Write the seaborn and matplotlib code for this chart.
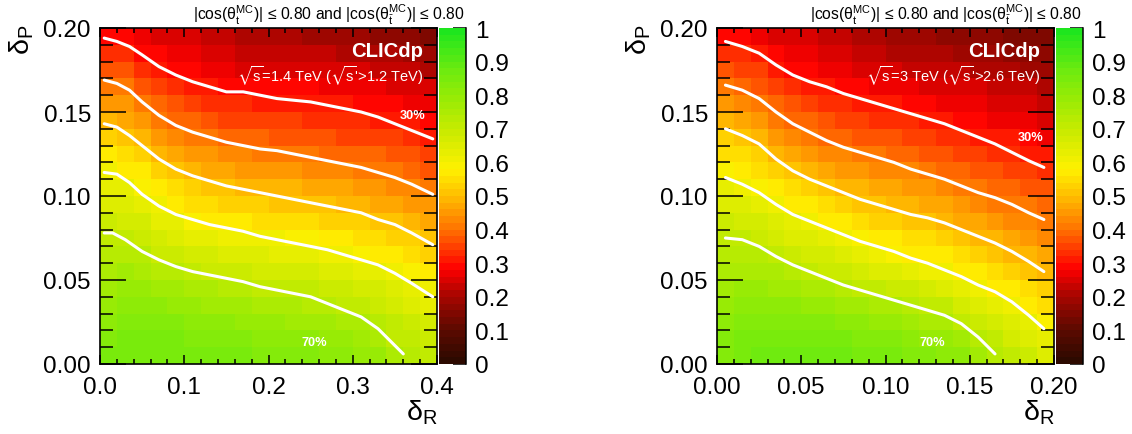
import numpy as np
import matplotlib
matplotlib.use("Agg")
import matplotlib.pyplot as plt
from matplotlib.colors import LinearSegmentedColormap
import seaborn as sns

# Efficiency (percent), one list per delta_R bin, from delta_P = 0.005 (first) up to 0.195 (last)
EFF_14 = [
    [84,83,81,79,77,75,73,71,68,65,63,60,56,53,49,45,41,37,33,29],
    [85,84,82,80,78,76,73,71,67,64,62,58,55,51,47,44,40,36,32,28],
    [85,84,82,80,78,75,72,69,66,62,59,56,53,49,45,40,37,33,29,26],
    [85,84,82,80,77,73,69,66,63,60,57,53,49,45,41,38,35,31,28,25],
    [85,84,82,79,76,72,68,65,62,58,54,51,47,43,39,36,32,29,27,24],
    [85,83,81,78,74,70,66,63,59,55,52,49,45,41,38,35,31,28,26,24],
    [84,83,80,77,74,69,66,62,58,54,51,47,44,40,36,33,30,27,25,23],
    [84,82,80,76,73,69,65,61,57,53,50,46,42,39,35,32,29,26,24,22],
    [84,82,79,76,72,68,65,61,56,52,49,45,42,38,35,32,29,25,23,21],
    [83,81,78,75,71,67,64,60,55,52,48,45,41,38,34,31,29,25,23,20],
    [83,81,78,74,71,67,63,60,55,51,48,44,41,37,34,31,28,25,22,20],
    [82,80,77,74,71,66,62,59,55,51,48,44,40,37,34,31,28,25,22,20],
    [82,80,77,73,70,66,62,59,54,50,47,43,40,36,33,30,28,25,22,19],
    [81,79,76,72,69,65,61,58,53,50,46,43,39,36,33,30,27,24,22,19],
    [80,78,75,71,68,64,60,56,52,49,46,42,39,35,32,30,27,24,21,19],
    [79,77,74,70,67,63,59,55,52,48,45,41,38,35,32,29,26,24,21,18],
    [78,75,72,69,66,62,58,55,51,47,44,41,38,34,31,28,26,23,20,17],
    [74,71,70,67,64,61,57,53,50,47,43,40,37,34,31,28,25,23,20,17],
    [72,70,68,65,62,59,55,52,48,45,42,39,36,33,30,27,25,22,19,16],
    [70,68,66,63,60,57,53,50,47,44,40,37,34,31,29,26,24,21,19,15],
]
EFF_3 = [
    [83,82,80,78,77,75,73,71,68,65,62,59,55,52,48,45,41,37,33,29],
    [85,84,82,80,78,75,73,70,67,64,61,58,54,51,47,43,39,35,32,28],
    [86,85,83,80,78,75,72,69,66,63,59,55,52,48,45,41,37,34,30,27],
    [87,85,83,80,77,74,70,67,64,60,56,52,49,45,41,38,34,31,28,25],
    [86,85,83,80,76,72,68,65,62,58,54,50,46,43,39,36,33,29,26,24],
    [86,85,83,79,75,70,67,64,60,56,52,48,45,41,38,34,31,28,26,24],
    [86,85,82,78,74,69,66,62,58,54,50,47,43,39,36,33,30,27,25,23],
    [86,84,81,77,72,68,64,61,57,53,49,45,42,38,35,32,29,26,24,22],
    [85,83,80,76,71,67,63,59,55,51,48,44,41,37,34,31,28,25,23,21],
    [85,83,79,75,70,65,61,57,53,50,47,43,40,36,33,30,27,24,22,20],
    [84,82,78,74,69,64,59,56,52,49,46,42,39,36,33,30,27,24,21,19],
    [83,81,77,72,68,63,58,55,51,48,45,42,38,35,32,29,26,23,21,18],
    [82,79,75,71,66,61,57,54,50,47,44,40,37,34,31,28,25,23,20,18],
    [81,78,74,70,64,60,56,52,49,46,42,39,36,33,31,27,25,22,20,17],
    [80,76,71,67,62,58,54,51,47,44,41,38,35,32,29,27,24,22,19,17],
    [76,73,69,64,60,56,52,49,46,43,40,37,34,31,28,26,24,21,18,16],
    [72,70,66,62,58,54,51,48,44,41,39,36,33,30,27,25,23,20,18,16],
    [70,67,64,60,57,53,49,46,43,40,38,35,32,30,27,24,22,20,17,15],
    [68,65,62,58,54,51,48,45,42,40,37,34,31,28,26,24,22,19,17,15],
    [65,62,59,55,52,49,46,43,41,38,36,33,30,27,25,23,21,19,16,14],
]

# Contours, left panel
X14 = [.005,.02,.035,.05,.07,.09,.11,.13,.15,.17,.19,.21,.23,.25,.27,.29,.31,.33,.35,.37,.395]
C14_30 = [.194,.192,.189,.184,.177,.172,.168,.165,.162,.162,.160,.158,.157,.156,.154,.152,.150,.147,.143,.139,.134]
C14_40 = [.169,.167,.163,.156,.148,.142,.138,.135,.132,.130,.128,.127,.125,.123,.121,.119,.117,.114,.111,.107,.101]
C14_50 = [.143,.141,.136,.130,.122,.116,.112,.109,.106,.104,.102,.100,.098,.096,.094,.092,.090,.086,.083,.078,.071]
C14_60 = [.114,.113,.108,.101,.094,.089,.086,.083,.081,.079,.076,.074,.072,.070,.068,.065,.062,.059,.054,.048,.040]
X14_70 = [.005,.015,.03,.05,.07,.09,.11,.13,.15,.17,.19,.21,.23,.25,.27,.29,.31,.33,.35,.36]
C14_70 = [.078,.078,.074,.067,.062,.058,.055,.053,.051,.049,.046,.044,.042,.040,.036,.032,.028,.021,.011,.006]

# Contours, right panel
X3 = [.005,.015,.025,.035,.045,.055,.065,.075,.085,.095,.105,.115,.125,.135,.145,.155,.165,.175,.185,.194]
C3_30 = [.192,.189,.185,.178,.172,.168,.165,.161,.158,.155,.152,.149,.146,.143,.139,.135,.131,.126,.121,.117]
C3_40 = [.166,.163,.158,.150,.143,.138,.133,.129,.126,.123,.120,.116,.113,.110,.106,.102,.099,.095,.090,.086]
C3_50 = [.140,.136,.131,.122,.115,.110,.106,.102,.098,.095,.092,.089,.087,.084,.080,.076,.072,.067,.061,.055]
C3_60 = [.111,.107,.102,.095,.089,.085,.081,.077,.073,.070,.067,.063,.060,.056,.052,.047,.043,.037,.029,.021]
X3_70 = [.005,.015,.025,.035,.045,.055,.065,.075,.085,.095,.105,.115,.125,.135,.145,.155,.165]
C3_70 = [.075,.074,.070,.064,.059,.055,.051,.047,.044,.041,.038,.035,.032,.029,.024,.016,.006]

YTICKS = [0.00, 0.05, 0.10, 0.15, 0.20]
YLABELS = ["0.00", "0.05", "0.10", "0.15", "0.20"]
X14TICKS = [0.0, 0.1, 0.2, 0.3, 0.4]
X14LABELS = ["0.0", "0.1", "0.2", "0.3", "0.4"]
X3TICKS = [0.00, 0.05, 0.10, 0.15, 0.20]
X3LABELS = ["0.00", "0.05", "0.10", "0.15", "0.20"]
CBTICKS = [0, .1, .2, .3, .4, .5, .6, .7, .8, .9, 1]
CBLABELS = ["0", "0.1", "0.2", "0.3", "0.4", "0.5", "0.6", "0.7", "0.8", "0.9", "1"]
TITLE = r"|cos($\mathrm{\theta}_{\mathrm{t}}^{\mathrm{MC}}$)| ≤ 0.80 and |cos($\mathrm{\theta}_{\bar{\mathrm{t}}}^{\mathrm{MC}}$)| ≤ 0.80"

sns.set_theme(style="white")
plt.rcParams["font.family"] = ["Liberation Sans", "DejaVu Sans"]
plt.rcParams["mathtext.fontset"] = "custom"
plt.rcParams["mathtext.rm"] = "Liberation Sans"
plt.rcParams["mathtext.it"] = "Liberation Sans"
plt.rcParams["mathtext.bf"] = "Liberation Sans:bold"
plt.rcParams["mathtext.fallback"] = "stixsans"

cmap = LinearSegmentedColormap.from_list("eff", [
    (0.00, (45/255, 10/255, 0)),
    (0.10, (95/255, 10/255, 0)),
    (0.20, (170/255, 5/255, 0)),
    (0.28, (255/255, 0, 0)),
    (0.40, (255/255, 115/255, 0)),
    (0.50, (255/255, 190/255, 0)),
    (0.58, (255/255, 240/255, 0)),
    (0.70, (200/255, 235/255, 0)),
    (0.80, (150/255, 235/255, 5/255)),
    (0.88, (110/255, 235/255, 15/255)),
    (1.00, (30/255, 230/255, 30/255)),
], N=50)

W, H = 1132, 435
fig = plt.figure(figsize=(W/100, H/100), dpi=100)
FS = 17.5


def rect(x0, x1, y0=29, y1=365):
    return [x0/W, 1 - y1/H, (x1 - x0)/W, (y1 - y0)/H]


def panel(x0, eff, xmax, xticks, xlabels, xminor, lines, energy, lab30, lab70):
    x1 = x0 + 337
    hm = fig.add_axes(rect(x0, x1))
    cax = fig.add_axes(rect(x1 + 2, x1 + 29))
    data = np.array(eff).T[::-1] / 100
    sns.heatmap(data, ax=hm, cmap=cmap, vmin=0, vmax=1, cbar_ax=cax,
                xticklabels=False, yticklabels=False, linewidths=0)
    hm.tick_params(left=False, bottom=False)

    cax.set_yticks(CBTICKS, CBLABELS)
    cax.tick_params(axis="y", which="major", direction="in", right=True, left=False,
                    length=9.4, width=1.1, color="black", labelsize=FS, pad=6.5,
                    labelcolor="black")
    hm.collections[0].colorbar.outline.set_visible(False)
    cax.spines["right"].set_visible(True)
    cax.spines["right"].set_color("black")
    cax.spines["right"].set_linewidth(1.1)

    ax = fig.add_axes(rect(x0, x1), facecolor="none")
    for xs, ys in lines:
        sns.lineplot(x=xs, y=ys, ax=ax, color="white", lw=2.2, sort=False,
                     estimator=None, legend=False, solid_joinstyle="round")
    ax.set_xlim(0, xmax)
    ax.set_ylim(0, 0.2)
    ax.set_xlabel("")
    ax.set_ylabel("")
    ax.set_xticks(xticks, xlabels)
    ax.set_yticks(YTICKS, YLABELS)
    ax.set_xticks(xminor, minor=True)
    ax.set_yticks(np.arange(0, 21) / 100, minor=True)
    ax.tick_params(axis="x", which="major", direction="in", top=True, bottom=True,
                   length=6.5, width=1.1, color="black", labelsize=FS, pad=8.5, labelcolor="black")
    ax.tick_params(axis="x", which="minor", direction="in", top=True, bottom=True,
                   length=3.3, width=1.1, color="black")
    ax.tick_params(axis="y", which="major", direction="in", left=True, right=True,
                   length=18.7, width=1.1, color="black", labelsize=FS, pad=6.5, labelcolor="black")
    ax.tick_params(axis="y", which="minor", direction="in", left=True, right=True,
                   length=9.4, width=1.1, color="black")
    for s in ax.spines.values():
        s.set_visible(True)
        s.set_color("black")
        s.set_linewidth(1.2)

    fig.text((x1 + 28)/W, 1 - 15/H, TITLE, ha="right", va="center", fontsize=11.3, color="black")
    fig.text((x0 + 323)/W, 1 - 52/H, "CLICdp", ha="right", va="center", fontsize=14.6,
             fontweight="bold", color="white")
    fig.text((x0 + 323)/W, 1 - 76/H, energy, ha="right", va="center", fontsize=10.5, color="white")
    fig.text(lab30[0]/W, 1 - lab30[1]/H, "30%", ha="center", va="center", fontsize=9.2,
             fontweight="bold", color="white")
    fig.text(lab70[0]/W, 1 - lab70[1]/H, "70%", ha="center", va="center", fontsize=9.2,
             fontweight="bold", color="white")
    fig.text((x1 + 1)/W, 1 - 413/H, r"δ$_{\mathrm{R}}$", ha="right", va="center", fontsize=FS + 3, color="black")
    fig.text((x0 - 78)/W, 1 - 40/H, r"δ$_{\mathrm{P}}$", ha="center", va="center", rotation=90,
             fontsize=FS + 3, color="black")


panel(100, EFF_14, 0.4, X14TICKS, X14LABELS, np.arange(0, 21) * 0.02,
      [(X14, C14_30), (X14, C14_40), (X14, C14_50), (X14, C14_60), (X14_70, C14_70)],
      r"$\sqrt{\mathrm{s}}$=1.4 TeV ($\sqrt{\mathrm{s}}$'>1.2 TeV)", (413, 116), (314, 343))
panel(717, EFF_3, 0.2, X3TICKS, X3LABELS, np.arange(0, 21) * 0.01,
      [(X3, C3_30), (X3, C3_40), (X3, C3_50), (X3, C3_60), (X3_70, C3_70)],
      r"$\sqrt{\mathrm{s}}$=3 TeV ($\sqrt{\mathrm{s}}$'>2.6 TeV)", (1031, 138), (932, 343))

fig.savefig("out.png", dpi=100)
